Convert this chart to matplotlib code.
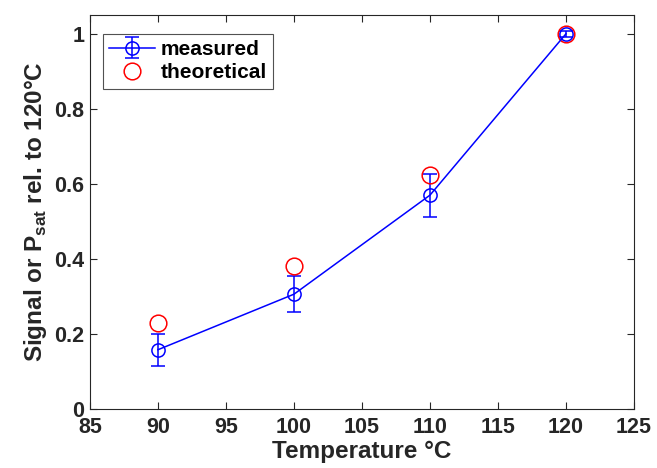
import numpy as np
import matplotlib
matplotlib.use('Agg')
from matplotlib import pyplot as plt

temps = [90, 100, 110, 120]
measured = [0.158, 0.306, 0.570, 1.0]
measured_err = [0.043, 0.048, 0.057, 0.008]
theoretical = [0.229, 0.381, 0.624, 1.0]

plt.rcParams['font.family'] = ['Liberation Sans', 'DejaVu Sans']
plt.rcParams['font.weight'] = 'bold'
plt.rcParams['mathtext.fontset'] = 'custom'
plt.rcParams['mathtext.bf'] = 'Liberation Sans:bold'
plt.rcParams['mathtext.rm'] = 'Liberation Sans'

fig = plt.figure(figsize=(6.57, 4.68), dpi=100)
ax = fig.add_axes([90/657, 1-409/468, (634-90)/657, (409-15)/468])

ax.errorbar(temps, measured, yerr=measured_err, color=(0, 0, 1), lw=1.1,
            marker='o', ms=9.5, mfc='none', mew=1.1, capsize=4.7, elinewidth=1.1,
            capthick=1.1, label='measured')
ax.plot(temps, theoretical, ls='none', marker='o', ms=12, mfc='none',
        mec=(1, 0, 0), mew=1.1, label='theoretical')

ax.set_xlim(85, 125)
ax.set_ylim(0, 1.05)
ax.set_xticks(np.arange(85, 126, 5))
ax.set_yticks([0, 0.2, 0.4, 0.6, 0.8, 1])
ax.set_yticklabels(['0', '0.2', '0.4', '0.6', '0.8', '1'])
ax.tick_params(direction='in', length=5, width=0.8, labelsize=15.5,
               colors='#262626', top=True, right=True, pad=4)
ax.tick_params(axis='x', pad=6)
for s in ax.spines.values():
    s.set_color('#262626')
    s.set_linewidth(0.8)

ax.set_xlabel('Temperature °C', fontsize=17.5, fontweight='bold', color='#262626', labelpad=1)
ax.set_ylabel(r'Signal or P$_{\mathbf{sat}}$ rel. to 120°C', fontsize=17.5,
              fontweight='bold', color='#262626', labelpad=4)

handles, labels = ax.get_legend_handles_labels()
order = [labels.index('measured'), labels.index('theoretical')]
leg = ax.legend([handles[i] for i in order], [labels[i] for i in order],
                loc='upper left', bbox_to_anchor=(0.023, 0.952), borderaxespad=0,
                fontsize=15, frameon=True, fancybox=False,
                edgecolor='#262626', borderpad=0.3, handlelength=2.2,
                handletextpad=0.3, labelspacing=0.2)
leg.get_frame().set_linewidth(0.8)

fig.savefig('out.png', dpi=100)
